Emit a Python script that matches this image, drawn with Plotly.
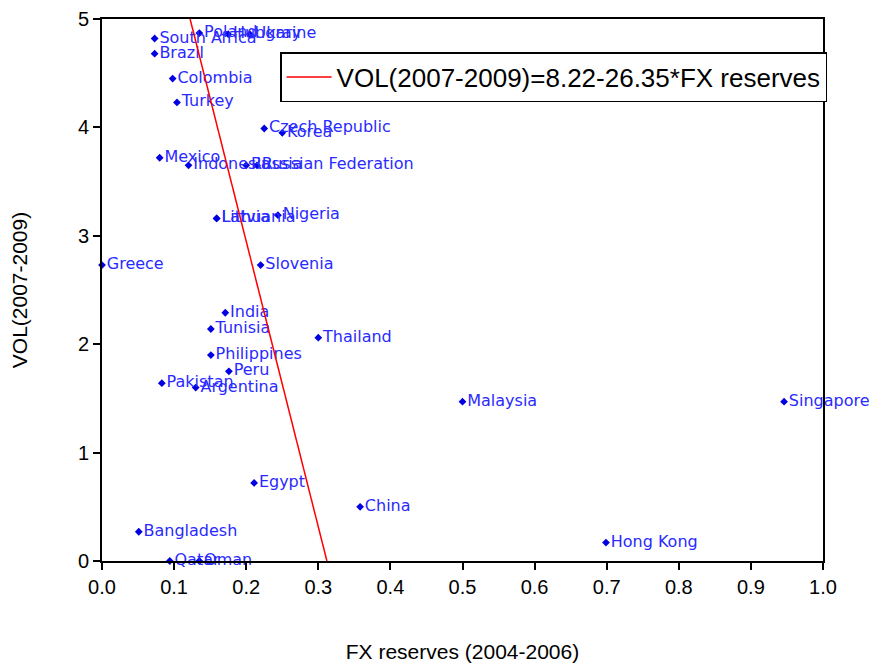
import plotly.graph_objects as go

countries = ["Poland", "Hungary", "Ukraine", "South Africa", "Brazil", "Colombia", "Turkey",
             "Czech Republic", "Korea", "Mexico", "Indonesia", "Russia", "Russian Federation",
             "Latvia", "Lithuania", "Nigeria", "Greece", "Slovenia", "India", "Tunisia",
             "Thailand", "Philippines", "Peru", "Pakistan", "Argentina", "Malaysia",
             "Singapore", "Egypt", "China", "Bangladesh", "Hong Kong", "Qatar", "Oman"]
fx_reserves = [0.135, 0.175, 0.205, 0.073, 0.073, 0.098, 0.104,
               0.225, 0.250, 0.080, 0.120, 0.200, 0.215,
               0.159, 0.159, 0.244, 0.000, 0.220, 0.171, 0.151,
               0.300, 0.151, 0.176, 0.083, 0.130, 0.500,
               0.946, 0.211, 0.358, 0.051, 0.699, 0.094, 0.135]
vol = [4.87, 4.86, 4.86, 4.82, 4.68, 4.45, 4.23,
       3.99, 3.95, 3.72, 3.65, 3.65, 3.65,
       3.16, 3.16, 3.19, 2.73, 2.73, 2.29, 2.14,
       2.06, 1.90, 1.75, 1.64, 1.60, 1.47,
       1.47, 0.72, 0.50, 0.27, 0.17, 0.00, 0.00]

intercept = 8.22
slope = -26.35
line_y = [5.0, 0.0]
line_x = [(yv - intercept) / slope for yv in line_y]
legend_label = "VOL(2007-2009)=8.22-26.35*FX reserves"

x_ticks = [i / 10 for i in range(11)]
y_ticks = [0, 1, 2, 3, 4, 5]

fig = go.Figure()
fig.add_trace(go.Scatter(
    x=fx_reserves, y=vol, mode="markers+text", text=countries,
    textposition="middle right",
    textfont=dict(family="DejaVu Sans", size=16, color="#2a2aff"),
    marker=dict(symbol="diamond", size=6, color="#0000e0"),
    showlegend=False, cliponaxis=False,
))
fig.add_trace(go.Scatter(
    x=line_x, y=line_y, mode="lines", name=legend_label,
    line=dict(color="#ff0000", width=1.5), showlegend=True,
))

fig.update_layout(
    width=881, height=657,
    margin=dict(l=94, r=66, t=11, b=104),
    paper_bgcolor="white", plot_bgcolor="white",
    legend=dict(x=0.247, y=0.939, xanchor="left", yanchor="top",
                bordercolor="black", borderwidth=1.5, bgcolor="white",
                itemwidth=45,
                font=dict(family="Liberation Sans, Arial", size=26, color="black")),
    xaxis=dict(range=[0, 1], tickvals=x_ticks, ticktext=[f"{v:.1f}" for v in x_ticks],
               automargin=False,
               showgrid=False, zeroline=False, showline=True, linecolor="black",
               linewidth=2, mirror=True, ticks="outside", ticklen=7, tickwidth=1.5,
               tickcolor="black",
               tickfont=dict(family="Liberation Sans, Arial", size=20, color="black"),
               title=dict(text="FX reserves (2004-2006)", standoff=47,
                          font=dict(family="Liberation Sans, Arial", size=21, color="black"))),
    yaxis=dict(range=[0, 5], tickvals=y_ticks, automargin=False,
               showgrid=False, zeroline=False, showline=True, linecolor="black",
               linewidth=2, mirror=True, ticks="outside", ticklen=7, tickwidth=1.5,
               tickcolor="black",
               tickfont=dict(family="Liberation Sans, Arial", size=20, color="black"),
               title=dict(text="VOL(2007-2009)", standoff=50,
                          font=dict(family="Liberation Sans, Arial", size=21, color="black"))),
)

fig.write_html("out.html")
